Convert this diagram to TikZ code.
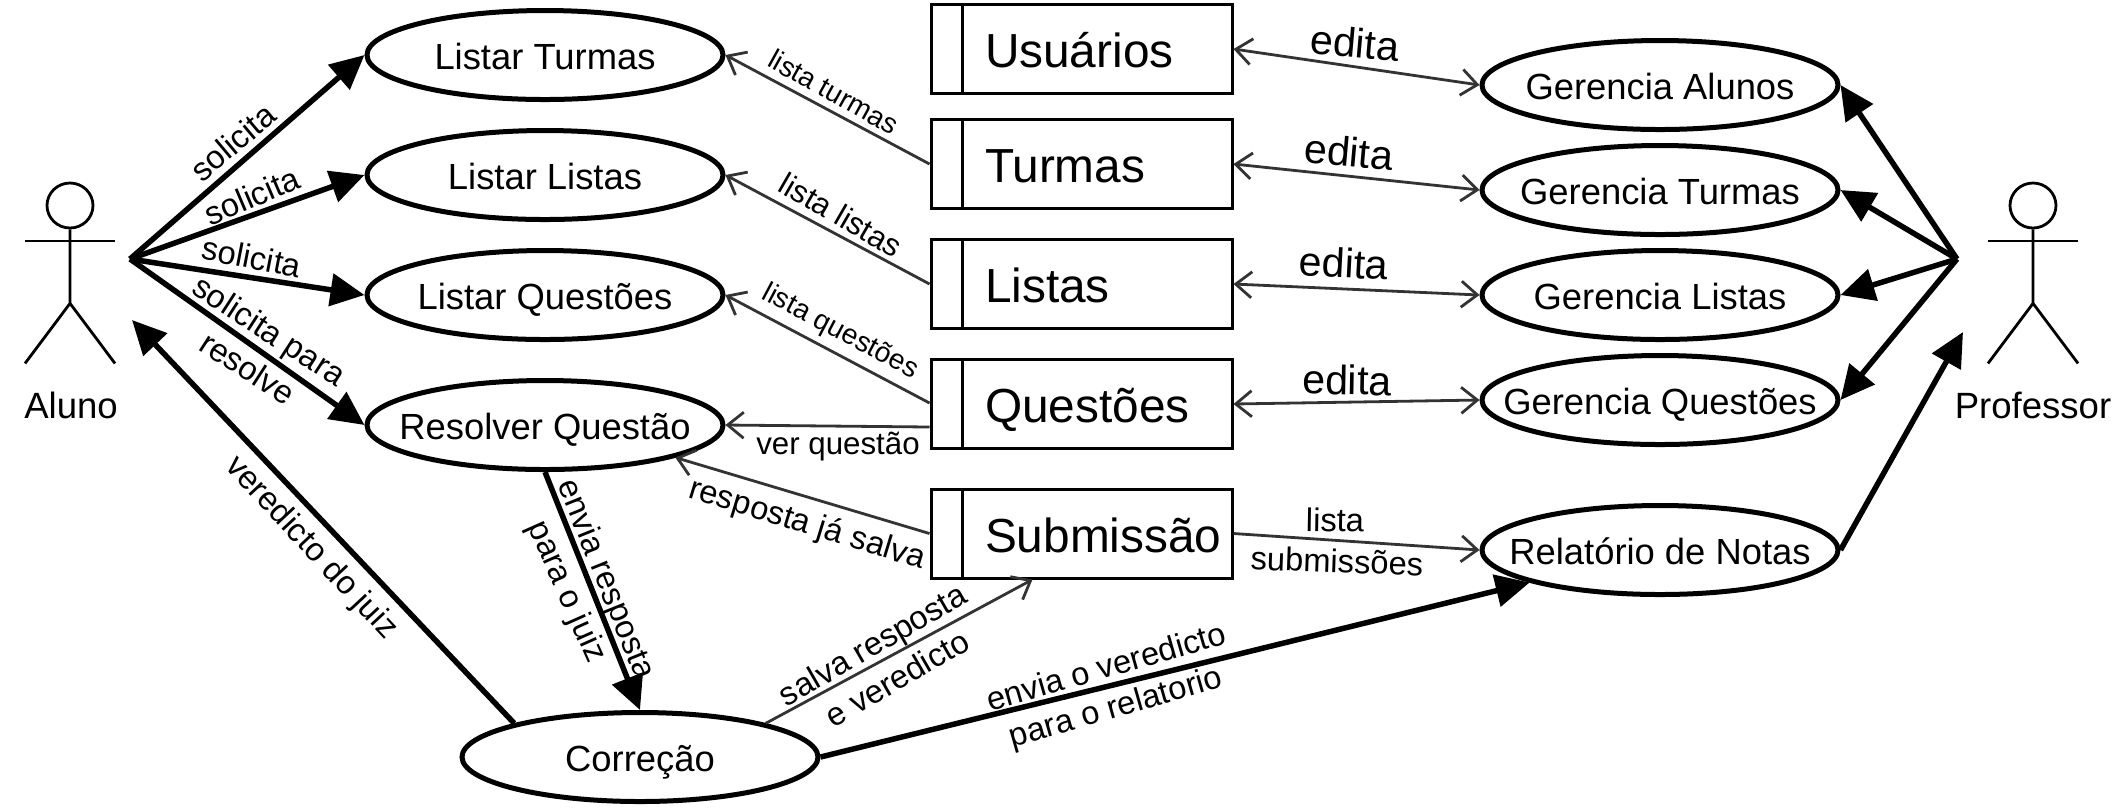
\documentclass[tikz,border=0pt]{standalone}
\usepackage{xcolor}
\usepackage{fontspec}
\setmainfont{Liberation Sans}
\usetikzlibrary{shapes.geometric, arrows.meta, positioning}
\definecolor{thinline}{HTML}{333333}
\tikzstyle{usecase} = [ellipse, minimum width=3.56cm, minimum height=0.89cm, inner xsep=-0.6cm, inner ysep=0pt, text height=8.1pt, text depth=0pt, line width=0.05cm, draw=black, font=\fontsize{10.35}{12}\selectfont]
\tikzstyle{tablebox} = [rectangle, minimum width=3.01cm, minimum height=0.89cm, text width=3.01cm, inner xsep=0pt, text height=10.8pt, text depth=0pt, align=left, line width=0.03cm, draw=black, font=\fontsize{13.6}{16}\selectfont, execute at begin node={\hspace*{0.54cm}}, path picture={\draw [line width=0.03cm] ([xshift=0.31cm]path picture bounding box.north west) -- ([xshift=0.31cm]path picture bounding box.south west);}]
\tikzstyle{actorhead} = [ellipse, minimum width=0.46cm, minimum height=0.45cm, inner sep=0pt, line width=0.028cm, draw=black]
\tikzstyle{actorline} = [line width=0.028cm]
\tikzstyle{actorname} = [font=\fontsize{10.4}{12}\selectfont]
\tikzstyle{arrow} = [line width=0.055cm, -{Triangle[length=0.34cm, width=0.32cm]}]
\tikzstyle{thinarrow} = [line width=0.028cm, draw=thinline, -{Straight Barb[length=0.16cm, width=0.26cm]}]
\tikzstyle{bothways} = [line width=0.028cm, draw=thinline, {Straight Barb[length=0.16cm, width=0.26cm]}-{Straight Barb[length=0.16cm, width=0.26cm]}]
\tikzstyle{edgetext} = [inner sep=0pt, font=\fontsize{9.3}{11}\selectfont]
\tikzstyle{smalltext} = [inner sep=0pt, font=\fontsize{8}{10}\selectfont]
\tikzstyle{midtext} = [inner sep=0pt, font=\fontsize{8.9}{11}\selectfont]
\tikzstyle{editatext} = [inner sep=0pt, font=\fontsize{11.7}{14}\selectfont]

\begin{document}
\begin{tikzpicture}[node distance=1.2cm]
\useasboundingbox (0,0) rectangle (21.15,-8.10);

% Student use cases
\node (listarTurmas) [usecase] at (5.45,-0.55) {Listar Turmas};
\node (listarListas) [usecase, below of=listarTurmas] {Listar Listas};
\node (listarQuestoes) [usecase, below of=listarListas] {Listar Questões};
\node (resolver) [usecase, below of=listarQuestoes, node distance=1.3cm] {Resolver Questão};
\node (correcao) [usecase] at (6.40,-7.57) {Correção};

% Tables
\node (usuarios) [tablebox] at (10.815,-0.49) {Usuários};
\node (turmas) [tablebox, below of=usuarios, node distance=1.15cm] {Turmas};
\node (listas) [tablebox, below of=turmas] {Listas};
\node (questoes) [tablebox, below of=listas] {Questões};
\node (submissao) [tablebox, below of=questoes, node distance=1.295cm] {Submissão};

% Teacher use cases
\node (gerAlunos) [usecase] at (16.60,-0.85) {Gerencia Alunos};
\node (gerTurmas) [usecase, below of=gerAlunos, node distance=1.05cm] {Gerencia Turmas};
\node (gerListas) [usecase, below of=gerTurmas, node distance=1.05cm] {Gerencia Listas};
\node (gerQuestoes) [usecase, below of=gerListas, node distance=1.05cm] {Gerencia Questões};
\node (relatorio) [usecase, below of=gerQuestoes, node distance=1.5cm] {Relatório de Notas};

% Aluno
\node (alunoHead) [actorhead] at (0.70,-2.055) {};
\draw [actorline] (alunoHead.south) -- ++(0,-0.74) coordinate (alunoHip) -- ++(-0.45,-0.6);
\draw [actorline] (alunoHip) -- ++(0.45,-0.6);
\draw [actorline] (0.25,-2.41) -- (1.15,-2.41);
\node (aluno) [actorname] at (0.71,-4.05) {Aluno};
\coordinate (alunoHub) at (1.30,-2.59);
\coordinate (alunoIn) at (1.32,-3.20);

% Professor
\node (profHead) [actorhead] at (20.33,-2.055) {};
\draw [actorline] (profHead.south) -- ++(0,-0.74) coordinate (profHip) -- ++(-0.45,-0.6);
\draw [actorline] (profHip) -- ++(0.45,-0.6);
\draw [actorline] (19.88,-2.41) -- (20.78,-2.41);
\node (professor) [actorname] at (20.33,-4.05) {Professor};
\coordinate (profHub) at (19.57,-2.59);
\coordinate (profIn) at (19.63,-3.32);

% Thick arrows
\draw [arrow] (alunoHub) -- (listarTurmas.west);
\draw [arrow] (alunoHub) -- (listarListas.west);
\draw [arrow] (alunoHub) -- (listarQuestoes.west);
\draw [arrow] (alunoHub) -- (resolver.west);
\draw [arrow] (resolver.south) -- (correcao.north);
\draw [arrow] (correcao.165) -- (alunoIn);
\draw [arrow] (correcao.east) -- (relatorio.194);
\draw [arrow] (relatorio.east) -- (profIn);
\draw [arrow] (profHub) -- (gerAlunos.east);
\draw [arrow] (profHub) -- (gerTurmas.east);
\draw [arrow] (profHub) -- (gerListas.east);
\draw [arrow] (profHub) -- (gerQuestoes.east);

% Thin arrows
\draw [thinarrow] (turmas.west) -- (listarTurmas.east);
\draw [thinarrow] (listas.west) -- (listarListas.east);
\draw [thinarrow] ([yshift=0.01cm]questoes.west) -- (listarQuestoes.east);
\draw [thinarrow] ([yshift=-0.23cm]questoes.west) -- (resolver.east);
\draw [thinarrow] (submissao.west) -- (resolver.-14);
\draw [thinarrow] (correcao.15) -- ([xshift=-0.49cm]submissao.south);
\draw [thinarrow] (submissao.east) -- (relatorio.west);
\draw [bothways] (usuarios.east) -- (gerAlunos.west);
\draw [bothways] (turmas.east) -- (gerTurmas.west);
\draw [bothways] (listas.east) -- (gerListas.west);
\draw [bothways] (questoes.east) -- (gerQuestoes.west);

% Arrow labels
\node (txtSolicitaA) [edgetext, rotate=40] at (2.33,-1.42) {solicita};
\node (txtSolicitaB) [edgetext, rotate=23] at (2.52,-1.96) {solicita};
\node (txtSolicitaC) [edgetext, rotate=-11] at (2.52,-2.57) {solicita};
\node (txtSolicitaD) [edgetext, rotate=-33] at (2.68,-3.33) {solicita para};
\node (txtResolve) [edgetext, rotate=-33] at (2.48,-3.68) {resolve};
\node (txtVeredicto) [edgetext, rotate=-47] at (3.11,-5.48) {veredicto do juiz};
\node (txtEnvia) [edgetext, rotate=-68] at (6.05,-5.80) {envia resposta};
\node (txtParaJuiz) [edgetext, rotate=-66] at (5.66,-5.92) {para o juiz};
\node (txtSalva) [edgetext, rotate=30] at (8.74,-6.47) {salva resposta};
\node (txtVerEnd) [edgetext, rotate=30] at (8.97,-6.78) {e veredicto};
\node (txtEnviaVer) [edgetext, rotate=16] at (11.06,-6.66) {envia o veredicto};
\node (txtParaRel) [edgetext, rotate=16] at (11.16,-7.09) {para o relatorio};
\node (txtJaSalva) [edgetext, rotate=-17] at (8.07,-5.25) {resposta já salva};
\node (txtVer) [midtext] at (8.38,-4.47) {ver questão};
\node (txtTurmas) [smalltext, rotate=-29] at (8.34,-0.92) {lista turmas};
\node (txtListas) [midtext, rotate=-30] at (8.41,-2.15) {lista listas};
\node (txtQuestoes) [smalltext, rotate=-28] at (8.40,-3.32) {lista questões};
\node (txtEditaA) [editatext, rotate=-5] at (13.55,-0.43) {edita};
\node (txtEditaB) [editatext, rotate=-5] at (13.49,-1.52) {edita};
\node (txtEditaC) [editatext, rotate=-3] at (13.44,-2.63) {edita};
\node (txtEditaD) [editatext, rotate=-1] at (13.47,-3.80) {edita};
\node (txtLista) [edgetext, rotate=-1] at (13.35,-5.20) {lista};
\node (txtSubmissoes) [edgetext, rotate=-2] at (13.37,-5.61) {submissões};

\end{tikzpicture}
\end{document}
